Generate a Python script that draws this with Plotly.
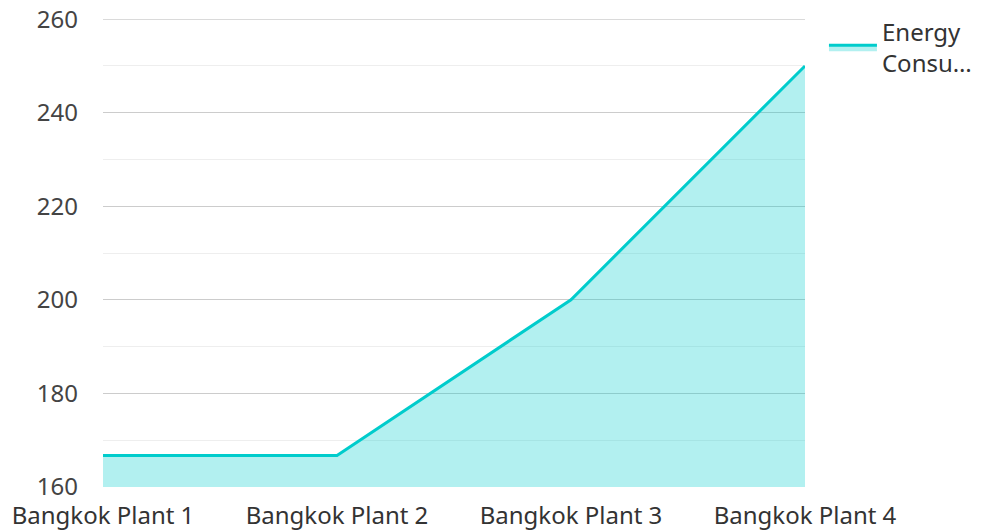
import plotly.graph_objects as go

categories = ["Bangkok Plant 1", "Bangkok Plant 2", "Bangkok Plant 3", "Bangkok Plant 4"]
values = [166.7, 166.7, 200, 250]
series_name = "Energy<br>Consu…"
y_ticks = [160, 180, 200, 220, 240, 260]

fig = go.Figure()
fig.add_trace(go.Scatter(
    x=categories, y=values, name=series_name, mode="lines",
    line=dict(color="#00CCCC", width=3),
    fill="tozeroy", fillcolor="rgba(0,204,204,0.3)",
))

fig.add_shape(type="line", xref="paper", x0=0, x1=1, yref="y", y0=y_ticks[-1], y1=y_ticks[-1],
              line=dict(color="#CCCCCC", width=1), layer="below")

fig.update_layout(
    width=984, height=531,
    margin=dict(l=103, r=179, t=19, b=44, autoexpand=False),
    paper_bgcolor="white", plot_bgcolor="white",
    font=dict(family="Noto Sans", size=24, color="#444"),
    showlegend=True,
    legend=dict(x=1.027, y=1.02, xanchor="left", yanchor="top", itemwidth=48,
                font=dict(size=24, color="#333"), bgcolor="rgba(0,0,0,0)"),
    xaxis=dict(range=[0, 3], showgrid=False, zeroline=False, showline=False, automargin=False,
               ticks="", tickfont=dict(size=24, color="#333"), ticklabelstandoff=12),
    yaxis=dict(range=[159.95, 260.05], tickvals=y_ticks, showgrid=True, gridcolor="#CCCCCC",
               gridwidth=1, zeroline=False, showline=False, ticks="", automargin=False,
               tickfont=dict(size=24, color="#444"), ticklabelstandoff=24,
               minor=dict(dtick=10, showgrid=True, gridcolor="#EEEEEE", gridwidth=1)),
)

fig.write_html("out.html")
